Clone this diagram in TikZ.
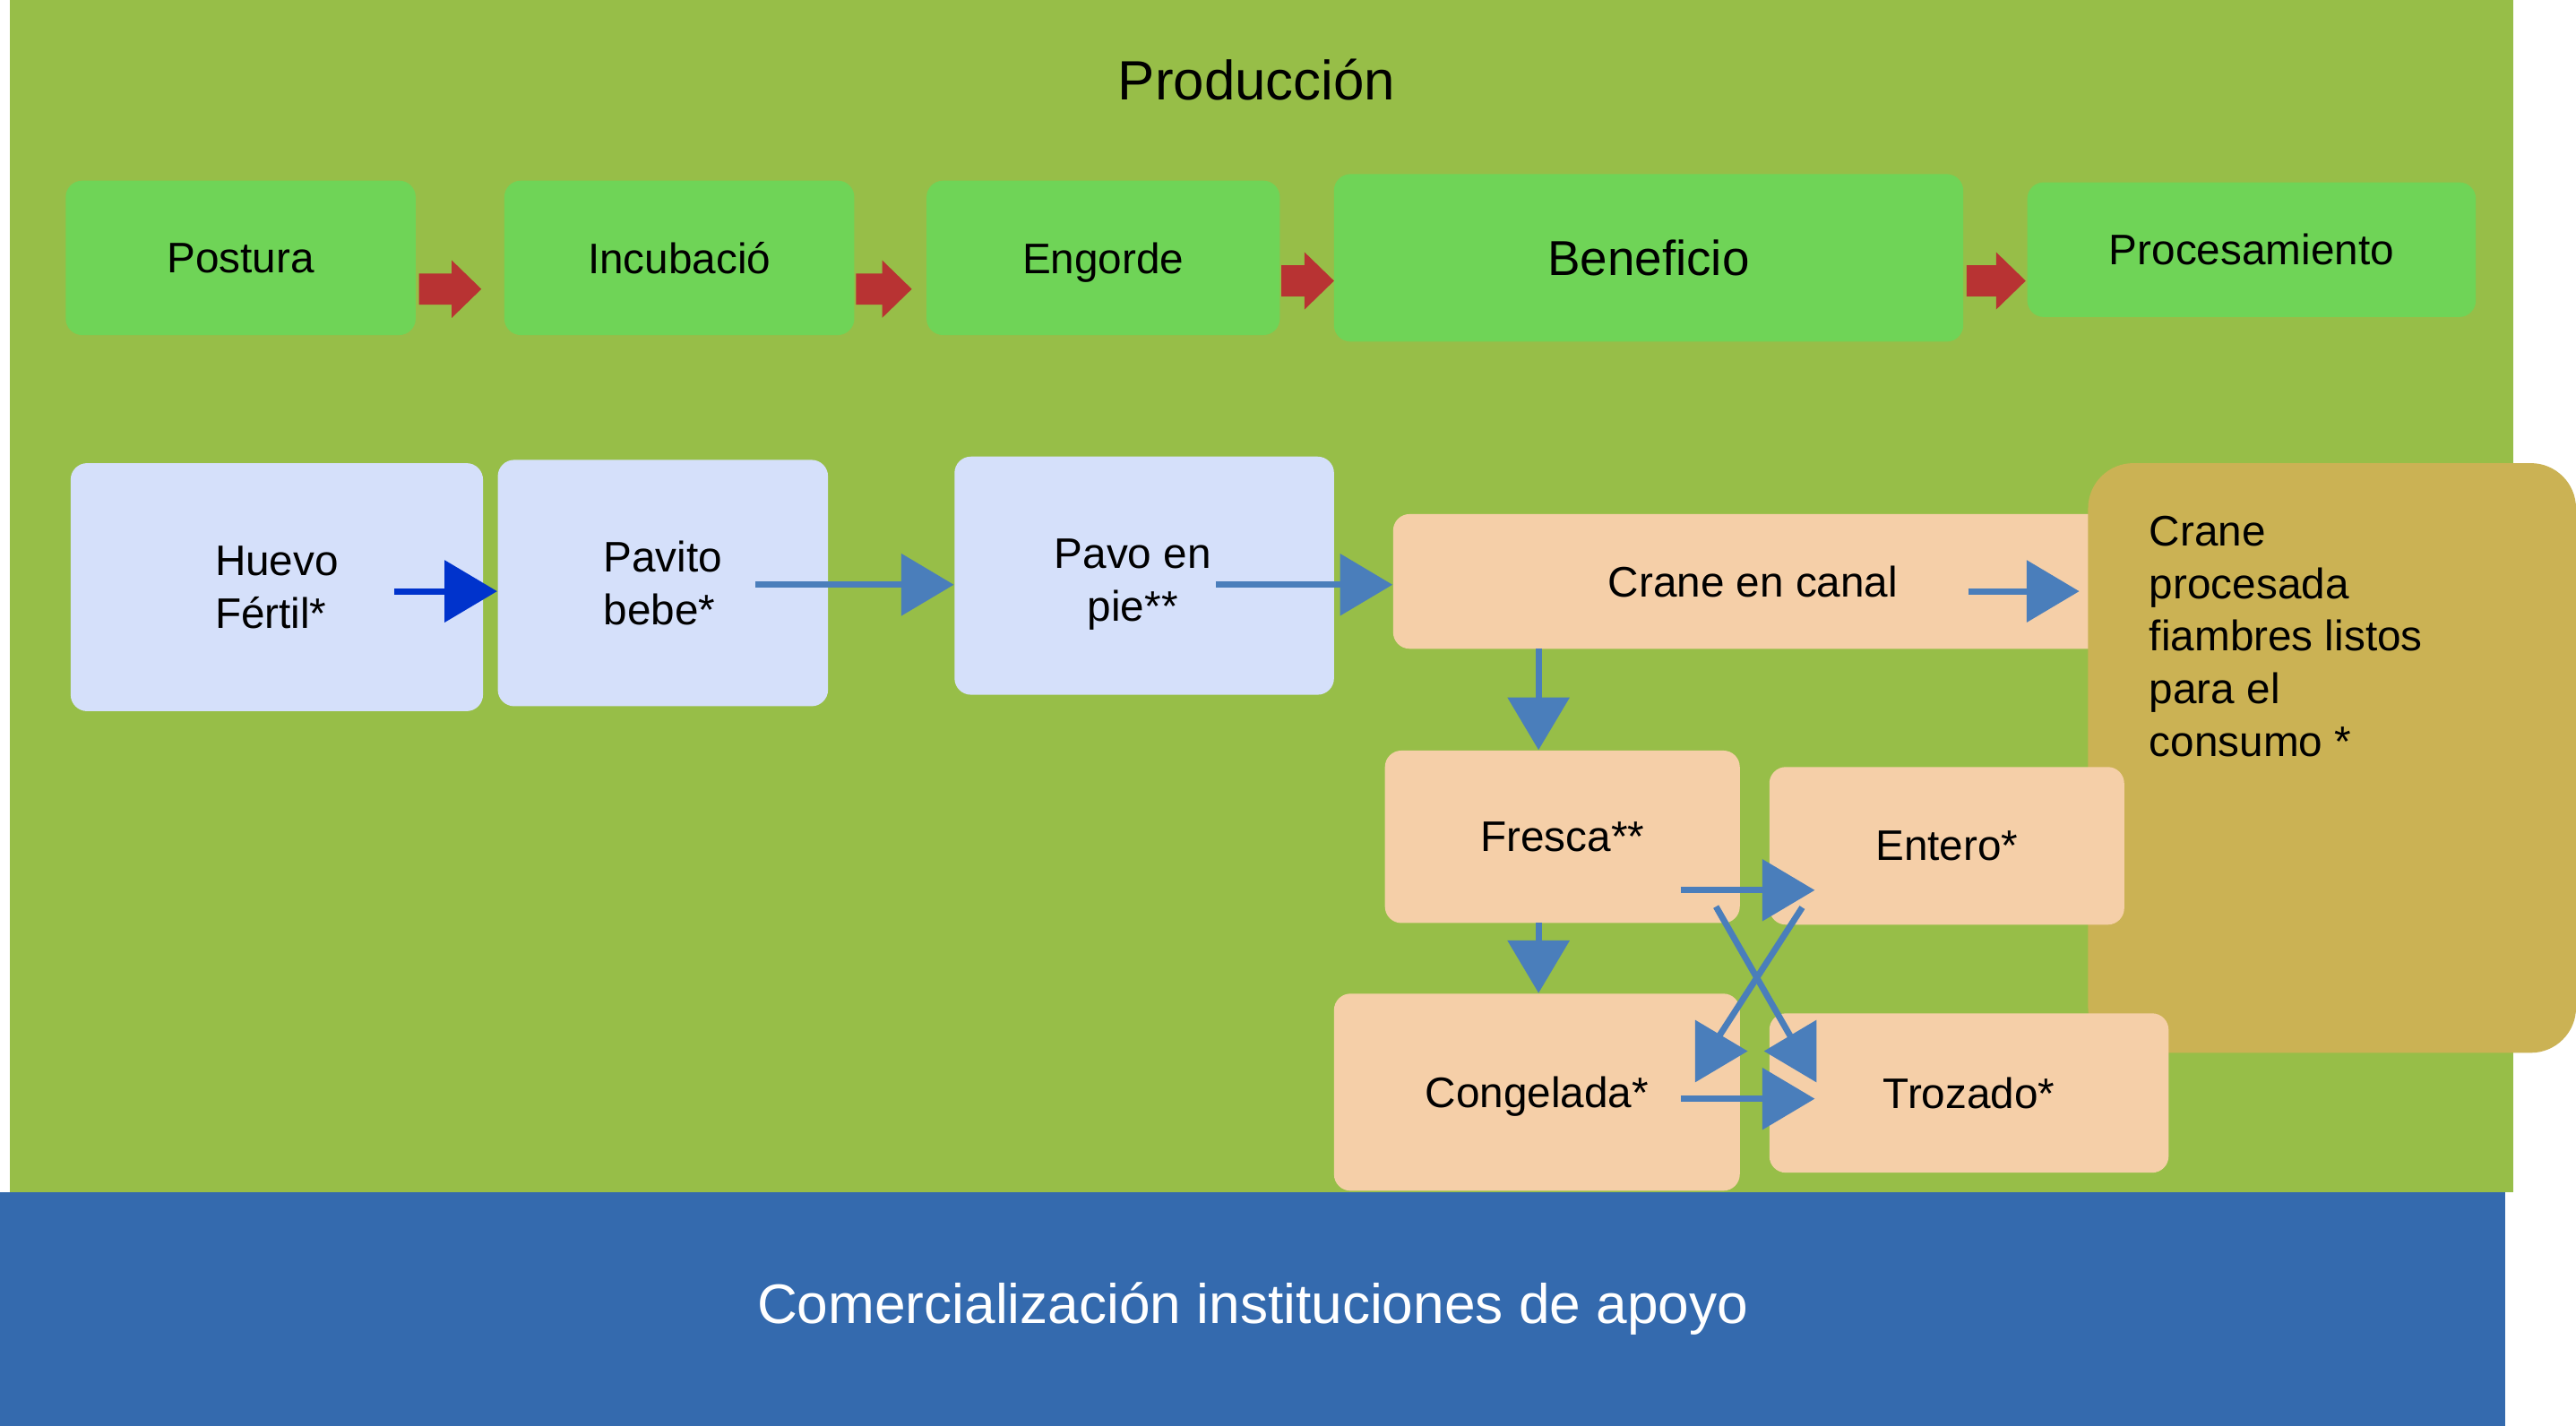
\documentclass[tikz,border=0pt]{standalone}
\usepackage{fontspec}
\setmainfont{Liberation Sans}
\usetikzlibrary{arrows.meta,calc}
\definecolor{fondo}{HTML}{97BE48}
\definecolor{verdeclaro}{HTML}{6FD457}
\definecolor{rojo}{HTML}{B83333}
\definecolor{celeste}{HTML}{D5E0FA}
\definecolor{durazno}{HTML}{F5CFA8}
\definecolor{ocre}{HTML}{CBB254}
\definecolor{azulbarra}{HTML}{346AAE}
\definecolor{azulflecha}{HTML}{4A7EBB}
\definecolor{azuloscuro}{HTML}{0033CC}
\begin{document}
\begin{tikzpicture}[x=0.2mm,y=-0.2mm,
  texto/.style={font=\fontsize{14.8}{18.2}\selectfont},
  etapa/.style={texto,fill=verdeclaro,rounded corners=2mm,inner sep=0pt,minimum height=18.8mm,text depth=0pt},
  producto/.style={texto,fill=celeste,rounded corners=2mm,inner sep=0pt,align=left},
  carne/.style={texto,fill=durazno,rounded corners=2mm,inner sep=0pt,text depth=0pt},
  flecha/.style={draw=azulflecha,line width=0.76mm,-{Triangle[length=6.4mm,width=7.4mm]}}]
  \fill[white] (0,0) rectangle (1568,868);
  \useasboundingbox (0,0) rectangle (1568,868);
  \fill[fondo] (6,0) rectangle (1530,726);
  \node[fill=azulbarra,text=white,inner sep=0pt,minimum width=305mm,minimum height=28.4mm,
    font=\fontsize{19.3}{23}\selectfont] (comercial) at (762.5,797) {Comercialización instituciones de apoyo};
  \node[anchor=base,font=\fontsize{19.2}{23}\selectfont] (produccion) at (765,61) {Producción};

  \node[etapa,minimum width=42.6mm] (postura) at (146.5,157) {Postura};
  \node[etapa,minimum width=42.6mm] (incubacion) at (413.5,157) {Incubació};
  \node[etapa,minimum width=43mm] (engorde) at (671.5,157) {Engorde};
  \node[etapa,minimum width=76.6mm,minimum height=20.4mm,font=\fontsize{17}{20}\selectfont] (beneficio) at (1003.5,157) {Beneficio};
  \node[etapa,minimum width=54.6mm,minimum height=16.4mm] (procesamiento) at (1370.5,152) {Procesamiento};
  \foreach \x/\y/\l in {255/176/38,521/176/34,780/171/32,1197/171/36}
    \fill[rojo] (\x,\y-9.5) -- (\x+\l-18,\y-9.5) -- (\x+\l-18,\y-17.5) -- (\x+\l,\y)
      -- (\x+\l-18,\y+17.5) -- (\x+\l-18,\y+9.5) -- (\x,\y+9.5) -- cycle;

  \node[producto,minimum width=50.2mm,minimum height=30.2mm] (huevo) at (168.5,357.5) {Huevo\\Fértil*};
  \node[producto,minimum width=40.2mm,minimum height=30mm] (pavito) at (403.5,355) {Pavito\\bebe*};
  \node[producto,minimum width=46.2mm,minimum height=29mm] (pavo) at (696.5,350.5) {};
  \node[texto,align=center,inner sep=0pt] (pavotxt) at (689.5,356) {Pavo en\\pie**};

  \node[carne,minimum width=87.6mm,minimum height=16.4mm] (canal) at (1067,354) {Crane en canal};
  \node[fill=ocre,rounded corners=5.5mm,inner sep=0pt,minimum width=59.4mm,minimum height=71.8mm] (consumo) at (1419.5,461.5) {};
  \node[texto,anchor=north west,align=left,inner sep=0pt] (consumotxt) at (1308,314)
    {Crane\\procesada\\fiambres listos\\para el\\consumo *};
  \node[carne,minimum width=43.2mm,minimum height=21mm] (fresca) at (951,509.5) {Fresca**};
  \node[carne,minimum width=43.2mm,minimum height=19.2mm] (entero) at (1185,515) {Entero*};
  \node[carne,minimum width=49.4mm,minimum height=24mm] (congelada) at (935.5,665) {Congelada*};
  \node[carne,minimum width=48.6mm,minimum height=19.4mm] (trozado) at (1198.5,665.5) {Trozado*};

  \coordinate (h1) at (240,360);
  \draw[flecha,draw=azuloscuro] (h1) -- (h1 -| pavito.west);
  \coordinate (p1) at (460,356);
  \draw[flecha] (p1) -- (p1 -| pavo.west);
  \coordinate (p2) at (740,356);
  \draw[flecha] (p2) -- (p2 -| canal.west);
  \coordinate (c1) at (1198,360);
  \draw[flecha,shorten >=1mm] (c1) -- (c1 -| consumo.west);
  \coordinate (c2) at (936.5,395);
  \draw[flecha] (c2) -- (c2 |- fresca.north);
  \coordinate (f1) at (936.5,562);
  \draw[flecha] (f1) -- (f1 |- congelada.north);
  \coordinate (f2) at (1023,542);
  \draw[flecha] (f2) -- ($(f2 -| entero.west)+(28,0)$);
  \coordinate (g1) at (1023,669);
  \draw[flecha] (g1) -- ($(g1 -| trozado.west)+(28,0)$);
  \coordinate (f3) at (1044.5,552);
  \draw[flecha] (f3) -- ++(50.5,88) -- ($(trozado.west)+(-3,-25.5)$);
  \coordinate (e1) at (1097,552.5);
  \draw[flecha] (e1) -- ++(-56.5,87.5) -- ($(congelada.east)+(4.5,-25)$);
\end{tikzpicture}
\end{document}
